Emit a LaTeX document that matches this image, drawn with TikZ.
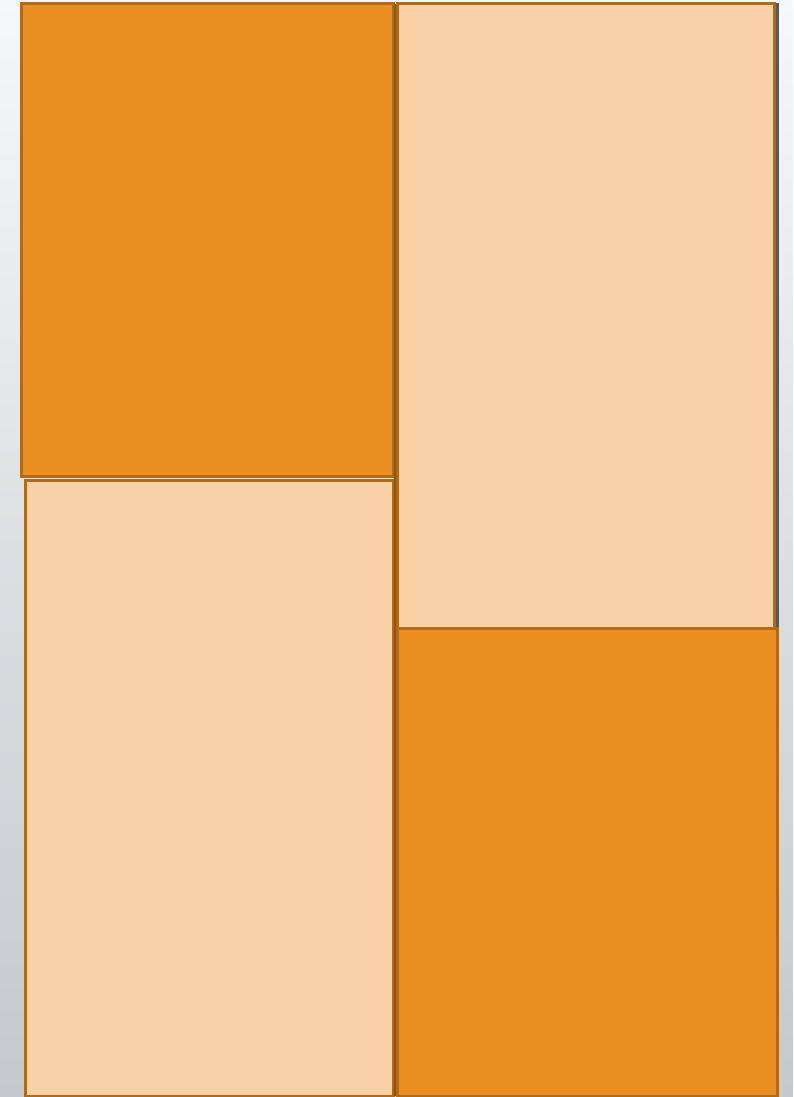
\documentclass[tikz,border=0pt]{standalone}
\usepackage{tikz}

\definecolor{deeporange}{HTML}{EB8F23}
\definecolor{paleorange}{HTML}{F8D1A6}
\definecolor{rimbrown}{HTML}{B06A1A}
\definecolor{bgtop}{HTML}{F6F7F8}
\definecolor{bgbottom}{HTML}{C4C9CB}

\tikzset{
  deepblock/.style={fill=deeporange, draw=rimbrown, line width=3pt},
  paleblock/.style={fill=paleorange, draw=rimbrown, line width=3pt},
}

\begin{document}
\begin{tikzpicture}[x=1pt, y=-1pt]
	\useasboundingbox (0,0) rectangle (793,1097);
	\shade[top color=bgtop, bottom color=bgbottom] (0,0) rectangle (793,1097);
	% shadow along the right side of the upper right block
	\fill[black!65] (775,3) rectangle (778.5,628);
	% left column
	\draw[paleblock] (25,480) rectangle (393,1096);
	\draw[deepblock] (21,4) rectangle (393,476);
	% right column
	\draw[paleblock] (397,4) rectangle (774,628);
	\draw[deepblock] (397,628) rectangle (777.5,1096);
	% seam between the columns
	\draw[rimbrown!80!black, line width=1.5pt] (395,4) -- (395,1096);
\end{tikzpicture}
\end{document}
